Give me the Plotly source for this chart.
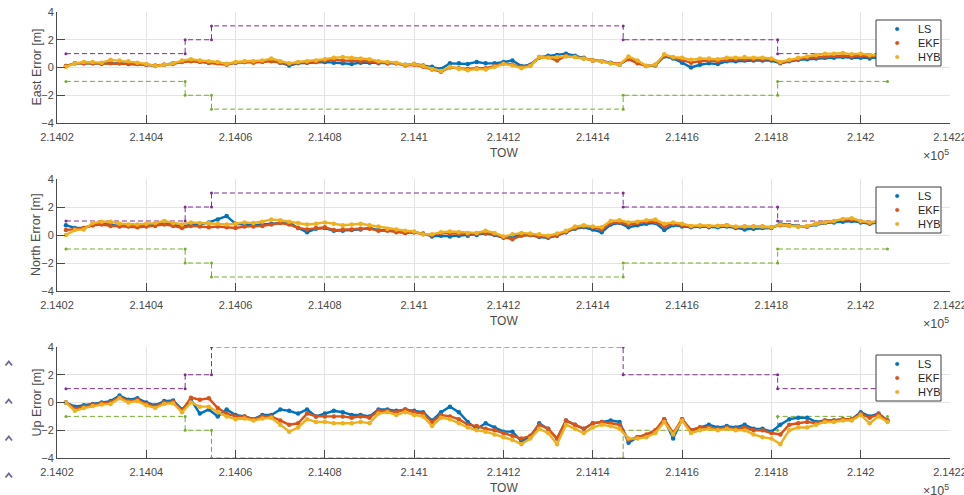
import plotly.graph_objects as go

# ---- time axis (time of week, s) ----
TOW = [214022, 214024, 214026, 214028, 214030, 214032, 214034, 214036, 214038, 214040,
       214042, 214044, 214046, 214048, 214050, 214052, 214054, 214056, 214058, 214060,
       214062, 214064, 214066, 214068, 214070, 214072, 214074, 214076, 214078, 214080,
       214082, 214084, 214086, 214088, 214090, 214092, 214094, 214096, 214098, 214100,
       214102, 214104, 214106, 214108, 214110, 214112, 214114, 214116, 214118, 214120,
       214122, 214124, 214126, 214128, 214130, 214132, 214134, 214136, 214138, 214140,
       214142, 214144, 214146, 214148, 214150, 214152, 214154, 214156, 214158, 214160,
       214162, 214164, 214166, 214168, 214170, 214172, 214174, 214176, 214178, 214180,
       214182, 214184, 214186, 214188, 214190, 214192, 214194, 214196, 214198, 214200,
       214202, 214204, 214206]

# ---- East error [m] ----
EAST_LS = [0.1, 0.3, 0.3, 0.3, 0.3, 0.35, 0.3, 0.25, 0.25, 0.2,
           0.1, 0.2, 0.3, 0.45, 0.5, 0.45, 0.35, 0.35, 0.25, 0.35,
           0.4, 0.4, 0.45, 0.5, 0.35, 0.15, 0.3, 0.35, 0.4, 0.4,
           0.35, 0.3, 0.25, 0.35, 0.35, 0.3, 0.3, 0.3, 0.2, 0.25,
           0.15, 0.05, -0.1, 0.3, 0.3, 0.25, 0.4, 0.3, 0.3, 0.4,
           0.5, 0.1, 0.2, 0.75, 0.85, 0.9, 1.0, 0.85, 0.7, 0.5,
           0.45, 0.35, 0.2, 0.65, 0.45, 0.1, 0.15, 0.8, 0.65, 0.35,
           0.0, 0.2, 0.3, 0.25, 0.45, 0.45, 0.5, 0.5, 0.5, 0.5,
           0.3, 0.45, 0.55, 0.6, 0.65, 0.7, 0.7, 0.75, 0.7, 0.7,
           0.65, 0.7, 0.75]
EAST_EKF = [0.1, 0.3, 0.3, 0.3, 0.25, 0.3, 0.3, 0.3, 0.25, 0.2,
            0.15, 0.2, 0.25, 0.4, 0.45, 0.4, 0.35, 0.3, 0.2, 0.35,
            0.4, 0.35, 0.4, 0.45, 0.35, 0.25, 0.35, 0.35, 0.4, 0.5,
            0.55, 0.5, 0.5, 0.45, 0.45, 0.35, 0.3, 0.3, 0.15, 0.2,
            0.05, -0.15, -0.3, 0.0, -0.05, -0.1, -0.05, -0.05, 0.1, 0.3,
            0.2, 0.05, 0.15, 0.7, 0.75, 0.5, 0.85, 0.75, 0.65, 0.5,
            0.45, 0.3, 0.25, 0.6, 0.3, 0.1, 0.2, 0.85, 0.7, 0.55,
            0.35, 0.45, 0.5, 0.45, 0.55, 0.6, 0.6, 0.6, 0.6, 0.6,
            0.35, 0.5, 0.6, 0.7, 0.75, 0.8, 0.85, 0.85, 0.8, 0.85,
            0.8, 0.8, 0.8]
EAST_HYB = [0.05, 0.3, 0.4, 0.4, 0.35, 0.55, 0.5, 0.45, 0.35, 0.25,
            0.1, 0.2, 0.3, 0.5, 0.6, 0.5, 0.45, 0.4, 0.25, 0.4,
            0.45, 0.45, 0.5, 0.65, 0.45, 0.3, 0.4, 0.45, 0.5, 0.6,
            0.7, 0.75, 0.7, 0.65, 0.6, 0.45, 0.4, 0.35, 0.2, 0.25,
            0.1, -0.1, -0.25, 0.05, -0.1, -0.2, -0.1, -0.15, 0.05, 0.25,
            0.15, -0.05, 0.1, 0.75, 0.7, 0.75, 0.8, 0.75, 0.65, 0.5,
            0.45, 0.3, 0.2, 0.8, 0.5, 0.1, 0.2, 0.95, 0.75, 0.7,
            0.55, 0.65, 0.65, 0.6, 0.7, 0.7, 0.75, 0.7, 0.7, 0.65,
            0.4, 0.55, 0.7, 0.8, 0.9, 1.0, 1.0, 1.05, 0.95, 1.0,
            0.9, 0.9, 0.85]

# ---- North error [m] ----
NORTH_LS = [0.7, 0.5, 0.5, 0.7, 0.8, 0.75, 0.65, 0.7, 0.65, 0.7,
            0.75, 0.85, 0.75, 0.6, 0.75, 0.75, 0.9, 1.1, 1.35, 0.8,
            0.75, 0.7, 0.75, 0.8, 0.9, 0.9, 0.5, 0.2, 0.45, 0.5,
            0.3, 0.3, 0.35, 0.4, 0.5, 0.35, 0.35, 0.25, 0.15, 0.2,
            0.1, -0.1, -0.05, -0.1, -0.05, -0.05, 0.0, 0.1, 0.0, -0.2,
            -0.1, 0.0, 0.0, -0.15, -0.2, -0.05, 0.2, 0.45, 0.55, 0.4,
            0.2, 0.75, 0.85, 0.55, 0.7, 0.8, 0.85, 0.35, 0.7, 0.6,
            0.55, 0.6, 0.55, 0.55, 0.6, 0.5, 0.4, 0.45, 0.5, 0.5,
            0.8, 0.7, 0.65, 0.6, 0.75, 0.85, 0.9, 0.95, 1.0, 0.9,
            0.8, 0.9, 0.9]
NORTH_EKF = [0.35, 0.45, 0.5, 0.7, 0.75, 0.65, 0.6, 0.6, 0.55, 0.6,
             0.65, 0.75, 0.65, 0.5, 0.65, 0.6, 0.55, 0.6, 0.55, 0.5,
             0.6, 0.6, 0.65, 0.75, 0.85, 0.75, 0.5, 0.4, 0.5, 0.55,
             0.35, 0.4, 0.4, 0.45, 0.45, 0.3, 0.3, 0.2, 0.15, 0.2,
             0.05, 0.0, 0.15, 0.1, 0.1, 0.05, 0.1, 0.15, 0.05, -0.15,
             -0.3, -0.05, 0.0, -0.1, -0.15, 0.0, 0.2, 0.5, 0.6, 0.55,
             0.4, 0.85, 0.9, 0.75, 0.85, 0.95, 0.95, 0.6, 0.8, 0.7,
             0.6, 0.65, 0.6, 0.65, 0.7, 0.55, 0.6, 0.6, 0.6, 0.55,
             0.7, 0.65, 0.6, 0.6, 0.8, 0.9, 0.95, 1.1, 1.1, 0.95,
             0.85, 0.95, 0.95]
NORTH_HYB = [0.0, 0.35, 0.4, 0.85, 0.95, 0.95, 0.8, 0.75, 0.75, 0.8,
             0.85, 1.0, 0.85, 0.75, 0.9, 0.85, 0.85, 0.8, 0.75, 0.8,
             0.9, 0.85, 0.95, 1.1, 1.05, 0.95, 0.85, 0.75, 0.8, 0.9,
             0.8, 0.7, 0.75, 0.8, 0.7, 0.6, 0.45, 0.4, 0.3, 0.25,
             0.05, 0.05, 0.2, 0.25, 0.2, 0.15, 0.15, 0.3, 0.15, -0.1,
             0.05, 0.15, 0.1, 0.05, -0.05, 0.1, 0.3, 0.6, 0.7, 0.6,
             0.55, 1.0, 1.05, 0.9, 0.95, 1.05, 1.1, 0.8, 0.9, 0.8,
             0.65, 0.7, 0.65, 0.65, 0.7, 0.6, 0.6, 0.6, 0.6, 0.55,
             0.75, 0.65, 0.6, 0.65, 0.8, 0.9, 1.0, 1.15, 1.2, 1.0,
             0.9, 1.0, 1.0]

# ---- Up error [m] ----
UP_LS = [0.0, -0.3, -0.2, -0.1, 0.0, 0.1, 0.5, 0.2, 0.3, 0.0,
         -0.2, 0.1, 0.15, -0.5, 0.2, -0.8, -0.5, -1.0, -0.5, -0.9,
         -1.0, -1.2, -0.9, -0.9, -0.5, -0.6, -0.8, -0.5, -1.0, -0.8,
         -0.6, -0.7, -0.9, -0.9, -1.0, -0.5, -0.5, -0.6, -0.5, -0.6,
         -0.7, -1.3, -0.7, -0.3, -0.7, -1.4, -1.9, -1.5, -1.8, -2.1,
         -2.1, -2.8, -2.5, -1.5, -1.9, -2.6, -1.3, -1.6, -1.9, -1.5,
         -1.4, -1.3, -1.4, -2.9, -2.5, -2.4, -2.1, -1.2, -2.6, -1.2,
         -2.0, -1.8, -1.6, -1.8, -1.7, -1.8, -1.6, -1.9, -1.9, -2.1,
         -1.6, -1.2, -1.1, -1.1, -1.4, -1.3, -1.3, -1.2, -1.2, -0.7,
         -1.0, -0.8, -1.3]
UP_EKF = [0.0, -0.45, -0.3, -0.15, -0.05, 0.0, 0.4, 0.1, 0.2, -0.1,
          -0.3, 0.0, 0.05, -0.6, 0.35, 0.2, 0.3, -0.4, -0.8, -1.0,
          -1.0, -1.2, -1.0, -1.0, -1.3, -1.6, -1.5, -0.8, -1.0, -1.0,
          -1.0, -1.0, -1.1, -1.0, -1.1, -0.6, -0.6, -0.7, -0.5, -0.7,
          -0.8, -1.4, -0.9, -1.0, -1.2, -1.6, -1.7, -1.9, -2.0, -2.2,
          -2.4, -2.6, -2.4, -1.6, -1.9, -2.6, -1.3, -1.6, -1.9, -1.5,
          -1.4, -1.5, -1.6, -2.7, -2.5, -2.3, -2.0, -1.2, -2.2, -1.2,
          -2.0, -1.8, -1.8, -1.9, -1.8, -1.9, -1.8, -2.0, -2.0, -2.2,
          -2.3, -1.6, -1.5, -1.4, -1.5, -1.3, -1.3, -1.2, -1.2, -0.8,
          -1.1, -0.85, -1.3]
UP_HYB = [0.0, -0.6, -0.4, -0.25, -0.15, -0.1, 0.3, 0.0, 0.1, -0.2,
          -0.4, -0.1, -0.05, -0.7, 0.0, -0.3, -0.3, -0.7, -1.0, -1.2,
          -1.15, -1.3, -1.15, -1.1, -1.6, -2.1, -1.8, -1.2, -1.4, -1.4,
          -1.5, -1.5, -1.5, -1.4, -1.5, -0.8, -0.7, -0.9, -0.7, -0.9,
          -1.0, -1.7, -1.1, -1.2, -1.5, -1.8, -2.0, -2.1, -2.3, -2.5,
          -2.7, -3.0, -2.6, -1.9, -2.2, -3.0, -1.6, -1.9, -2.2, -1.8,
          -1.6, -1.7, -1.9, -2.6, -2.6, -2.5, -2.2, -1.4, -2.3, -1.3,
          -2.2, -2.0, -1.9, -2.0, -1.9, -2.0, -2.0, -2.3, -2.5, -2.6,
          -3.0, -2.0, -1.8, -1.8, -1.6, -1.4, -1.4, -1.3, -1.3, -0.9,
          -1.5, -1.0, -1.4]

# ---- protection-level steps: segment boundaries and levels ----
STEP_TOW = [214022, 214048.7, 214054.6, 214146.8, 214181.4, 214206]
EN_UPPER = [1, 2, 3, 2, 1]
EN_LOWER = [-1, -2, -3, -2, -1]
UP_UPPER = [1, 2, 4, 2, 1]
UP_LOWER = [-1, -2, -4, -2, -1]

# ---- axis ticks ----
X_TICKS = [214020, 214040, 214060, 214080, 214100, 214120, 214140, 214160, 214180, 214200, 214220]
X_TICK_TEXT = ["2.1402", "2.1404", "2.1406", "2.1408", "2.141", "2.1412",
               "2.1414", "2.1416", "2.1418", "2.142", "2.1422"]
Y_TICKS = [-4, -2, 0, 2, 4]

SERIES_NAMES = ["LS", "EKF", "HYB"]
COLORS = ["#0072BD", "#D95319", "#EDB120"]
UPPER_COLOR = "#7E2F8E"
LOWER_COLOR = "#77AC30"

W, H = 964, 495
FONT = "Liberation Sans, Arial, sans-serif"
AX_COLOR = "#4a4a4a"
GRID = "#e4e4e4"


def px_x(px):
    return px / W


def px_y(py):
    return 1 - py / H


def step_vertices(times, levels):
    xs, ys = [], []
    for i, lv in enumerate(levels):
        xs += [times[i], times[i + 1]]
        ys += [lv, lv]
    return xs, ys


# panel vertical extents in pixels (top, bottom)
PANELS = [
    dict(top=12, bottom=123, label="East Error [m]",
         data=[EAST_LS, EAST_EKF, EAST_HYB], upper=EN_UPPER, lower=EN_LOWER),
    dict(top=179, bottom=291, label="North Error [m]",
         data=[NORTH_LS, NORTH_EKF, NORTH_HYB], upper=EN_UPPER, lower=EN_LOWER),
    dict(top=347, bottom=458, label="Up Error [m]",
         data=[UP_LS, UP_EKF, UP_HYB], upper=UP_UPPER, lower=UP_LOWER),
]
X_LEFT, X_RIGHT = 57, 950

fig = go.Figure()
layout = dict(
    template="none",
    width=W, height=H,
    margin=dict(l=0, r=0, t=0, b=0, autoexpand=False),
    paper_bgcolor="white", plot_bgcolor="white",
    font=dict(family=FONT, size=11, color=AX_COLOR),
    showlegend=False,
    annotations=[], shapes=[],
)


def label(text, x, y, size=12, angle=0, xanchor="center", color=AX_COLOR):
    return dict(text=text, x=px_x(x), y=px_y(y), xref="paper", yref="paper",
                xanchor=xanchor, yanchor="middle", showarrow=False,
                textangle=angle, font=dict(size=size, color=color, family=FONT))


for i, p in enumerate(PANELS):
    n = "" if i == 0 else str(i + 1)
    xa, ya = "x" + n, "y" + n

    # protection-level bounds
    for levels, col in ((p["upper"], UPPER_COLOR), (p["lower"], LOWER_COLOR)):
        bx, by = step_vertices(STEP_TOW, levels)
        fig.add_trace(go.Scatter(
            x=bx, y=by, mode="lines+markers", xaxis=xa, yaxis=ya,
            line=dict(color=col, width=1, dash="5px,3px"),
            marker=dict(color=col, size=3), hoverinfo="skip"))

    # estimator errors
    for name, vals, col in zip(SERIES_NAMES, p["data"], COLORS):
        fig.add_trace(go.Scatter(
            x=TOW, y=vals, mode="lines+markers", xaxis=xa, yaxis=ya,
            line=dict(color=col, width=2.4),
            marker=dict(color=col, size=4.5), name=name))

    common = dict(
        ticks="inside", ticklen=8, tickcolor=AX_COLOR, tickwidth=1,
        showline=True, linecolor=AX_COLOR, linewidth=1, mirror=False,
        showgrid=True, gridcolor=GRID, gridwidth=1, zeroline=False,
        automargin=False, ticklabeloverflow="allow",
        tickfont=dict(size=11, color=AX_COLOR, family=FONT))
    layout["xaxis" + n] = dict(
        domain=[px_x(X_LEFT), px_x(X_RIGHT)], anchor=ya,
        range=[214020, 214220], tickvals=X_TICKS, ticktext=X_TICK_TEXT,
        ticklabelstandoff=4, **common)
    layout["yaxis" + n] = dict(
        domain=[px_y(p["bottom"]), px_y(p["top"])], anchor=xa,
        range=[-4, 4], tickvals=Y_TICKS, **common)

    # axis labels
    layout["annotations"] += [
        label("TOW", (X_LEFT + X_RIGHT) / 2, p["bottom"] + 30),
        label(p["label"], 36, (p["top"] + p["bottom"]) / 2, size=12.5, angle=-90),
        label("\u00d710<sup>5</sup>", 951, p["bottom"] + 32, size=12.5, xanchor="right"),
    ]

    # legend box with dot markers
    lx0, lx1 = 876, 941
    ly0, ly1 = p["top"] + 8, p["top"] + 54
    layout["shapes"].append(dict(
        type="rect", xref="paper", yref="paper",
        x0=px_x(lx0), x1=px_x(lx1), y0=px_y(ly1), y1=px_y(ly0),
        fillcolor="white", line=dict(color="#3c3c3c", width=1)))
    for j, (name, col) in enumerate(zip(SERIES_NAMES, COLORS)):
        cy = p["top"] + 17 + 14 * j
        layout["shapes"].append(dict(
            type="circle", xref="paper", yref="paper",
            x0=px_x(895.4), x1=px_x(899), y0=px_y(cy + 1.8), y1=px_y(cy - 1.8),
            fillcolor=col, line=dict(color=col, width=0.5)))
        layout["annotations"].append(
            label(name, 916, cy, size=11, xanchor="left", color="#262626"))

# small chevrons along the left edge
for cy in [363, 401, 438, 475]:
    layout["shapes"].append(dict(
        type="path", xref="paper", yref="paper",
        path="M {:.5f},{:.5f} L {:.5f},{:.5f} L {:.5f},{:.5f}".format(
            px_x(5.5), px_y(cy + 2.5), px_x(8.8), px_y(cy - 1.5),
            px_x(12), px_y(cy + 2.5)),
        line=dict(color="#6a6a9a", width=1.8)))

fig.update_layout(**layout)
fig.write_html("out.html")
